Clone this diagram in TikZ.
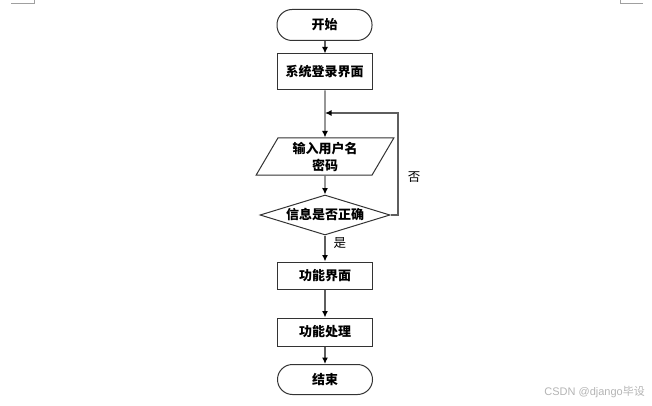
\documentclass[tikz,border=0pt]{standalone}
\usepackage{fontspec}
\newfontfamily\cjk{Noto Sans CJK SC}
\setmainfont{Liberation Sans}
\usetikzlibrary{shapes.geometric,arrows.meta}
\definecolor{linegray}{HTML}{5E5E5E}
\definecolor{edgegray}{HTML}{333333}
\definecolor{markgray}{HTML}{A0A0A0}
\definecolor{wmgray}{HTML}{B4B4B4}
\tikzset{
  base/.style={draw=edgegray, line width=1pt, inner sep=0pt, font=\cjk\bfseries\fontsize{13}{17}\selectfont, align=center},
  termbox/.style={base, rounded corners=15pt, minimum width=95pt},
  procbox/.style={base, rectangle, minimum width=95pt},
  iobox/.style={base, trapezium, trapezium left angle=63, trapezium right angle=117, trapezium stretches=true, minimum width=138pt, minimum height=37pt},
  decbox/.style={base, diamond, aspect=3.25, minimum width=130pt, minimum height=40pt},
  conn/.style={draw=linegray, line width=1.3pt, -{Latex[length=6.5pt,width=6pt,color=black]}},
  lbl/.style={font=\cjk\fontsize{12.5}{14}\selectfont, inner sep=0pt}
}
\begin{document}
\begin{tikzpicture}[x=1pt,y=-1pt]
\useasboundingbox (0,0) rectangle (652,406);
% page corner marks
\draw[markgray, line width=0.8pt] (11,3) -- (34,3) -- (34,0);
\draw[markgray, line width=0.8pt] (620,0) -- (620,3) -- (643,3);

\node[termbox, minimum height=31pt] (start) at (324.5,25) {开始};
\node[procbox, minimum height=36pt] (login) at (324.5,72) {系统登录界面};
\node[iobox] (input) at (325,156.5) {输入用户名\\密码};
\node[decbox] (check) at (325,215) {信息是否正确};
\node[procbox, minimum height=27pt] (func) at (325,275.5) {功能界面};
\node[procbox, minimum height=28pt] (proc) at (325,332) {功能处理};
\node[termbox, minimum height=30pt] (stop) at (325,379.5) {结束};

\coordinate (loopa) at (398,215);
\coordinate (loopb) at (398,113);
\coordinate (loopc) at (325,113);

\draw[conn] (start.south -| 325,0) -- (login.north -| 325,0);
\draw[conn] (login.south -| 325,0) -- (input.north);
\draw[conn] (input.south) -- (check.north);
\draw[conn] (check.south) -- (func.north) node[lbl, pos=0.3, right=8pt] (yes) {是};
\draw[conn] (func.south) -- (proc.north);
\draw[conn] (proc.south) -- (stop.north);
\draw[conn] (check.east) -- (loopa) -- (loopb) -- (loopc);
\node[lbl] (no) at (414,177) {否};

\node[font=\fontsize{11}{12}\selectfont, text=wmgray, inner sep=0pt, anchor=east] (wm) at (645,392) {CSDN @django{\cjk 毕设}};
\end{tikzpicture}
\end{document}
